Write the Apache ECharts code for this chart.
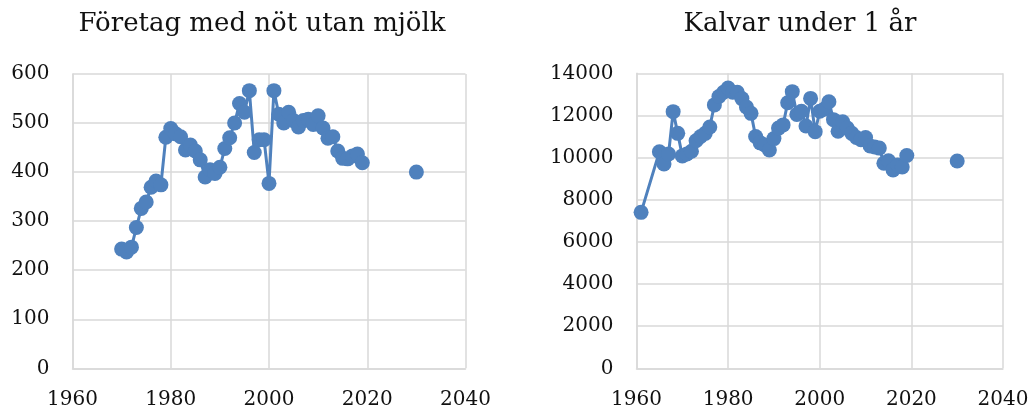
<!DOCTYPE html>
<html>
<head>
<meta charset="utf-8">
<script src="https://cdn.jsdelivr.net/npm/echarts@6/dist/echarts.min.js"></script>
<style>
html,body{margin:0;padding:0;background:#fff;}
#c{width:1033px;height:411px;}
</style>
</head>
<body>
<div id="c"></div>
<script>
// ---- Data ----
const leftTitle = "Företag med nöt utan mjölk";
const rightTitle = "Kalvar under 1 år";

const leftYears = [1970,1971,1972,1973,1974,1975,1976,1977,1978,1979,1980,1981,1982,1983,1984,1985,1986,1987,1988,1989,1990,1991,1992,1993,1994,1995,1996,1997,1998,1999,2000,2001,2002,2003,2004,2005,2006,2007,2008,2009,2010,2011,2012,2013,2014,2015,2016,2017,2018,2019];
const leftValues = [243,237,247,287,326,339,369,382,374,471,489,478,472,445,455,443,425,390,405,397,410,448,470,500,540,522,566,440,466,466,377,566,518,500,522,505,492,505,508,497,515,490,469,472,443,428,427,433,437,419];
const leftProjYear = [2030];
const leftProjValue = [400];

const rightYears = [1961,1965,1966,1967,1968,1969,1970,1971,1972,1973,1974,1975,1976,1977,1978,1979,1980,1981,1982,1983,1984,1985,1986,1987,1988,1989,1990,1991,1992,1993,1994,1995,1996,1997,1998,1999,2000,2001,2002,2003,2004,2005,2006,2007,2008,2009,2010,2011,2012,2013,2014,2015,2016,2017,2018,2019];
const rightValues = [7400,10280,9700,10170,12180,11150,10080,10170,10300,10800,11000,11150,11450,12500,12900,13100,13300,13100,13100,12800,12400,12100,11000,10700,10600,10360,10900,11400,11550,12600,13130,12050,12200,11500,12810,11230,12200,12300,12650,11800,11250,11700,11400,11150,10950,10850,10950,10550,10500,10450,9730,9850,9410,9650,9550,10100];
const rightProjYear = [2030];
const rightProjValue = [9840];

const xTicks = {min:1960, max:2040, interval:20};
const leftYTicks = {min:0, max:600, interval:100};
const rightYTicks = {min:0, max:14000, interval:2000};

// ---- Chart ----
const pair = (xs, ys) => xs.map((x,i) => [x, ys[i]]);
const FONT = "DejaVu Serif";
const BLUE = "#4f81bd";
const GRIDC = "#d9d9d9";
const TXT = "#111";
const plain = v => String(v);

const chart = echarts.init(document.getElementById('c'), null, {renderer:'canvas'});

function xAx(gi){
  return {
    gridIndex: gi, type:'value', min:xTicks.min, max:xTicks.max, interval:xTicks.interval,
    axisLine:{show:true, lineStyle:{color:GRIDC, width:1.5}},
    axisTick:{show:false},
    axisLabel:{color:TXT, fontFamily:FONT, fontSize:20, margin:21, formatter:plain},
    splitLine:{show:true, lineStyle:{color:GRIDC, width:1.5}}
  };
}
function yAx(gi, t){
  return {
    gridIndex: gi, type:'value', min:t.min, max:t.max, interval:t.interval,
    axisLine:{show:true, lineStyle:{color:GRIDC, width:1.5}},
    axisTick:{show:false},
    axisLabel:{color:TXT, fontFamily:FONT, fontSize:20, margin:23, formatter:plain},
    splitLine:{show:true, lineStyle:{color:GRIDC, width:1.5}}
  };
}
function lineSeries(i, data){
  return {
    type:'line', xAxisIndex:i, yAxisIndex:i, data:data,
    symbol:'circle', symbolSize:15, showSymbol:true,
    itemStyle:{color:BLUE, opacity:1}, lineStyle:{color:BLUE, width:3},
    animation:false
  };
}
function projSeries(i, data){
  return {
    type:'scatter', xAxisIndex:i, yAxisIndex:i, data:data,
    symbol:'circle', symbolSize:15, itemStyle:{color:BLUE, opacity:1}, animation:false
  };
}

chart.setOption({
  backgroundColor:'#fff',
  animation:false,
  title:[
    {text:leftTitle, left:257, top:6, textAlign:'center',
     textStyle:{fontFamily:FONT, fontSize:26, fontWeight:'normal', color:TXT}},
    {text:rightTitle, left:795, top:6, textAlign:'center',
     textStyle:{fontFamily:FONT, fontSize:26, fontWeight:'normal', color:TXT}}
  ],
  grid:[
    {left:72.5, right:567.5, top:74, bottom:42.7},
    {left:636.5, right:30, top:73.3, bottom:42.7}
  ],
  xAxis:[xAx(0), xAx(1)],
  yAxis:[yAx(0, leftYTicks), yAx(1, rightYTicks)],
  series:[
    lineSeries(0, pair(leftYears, leftValues)),
    projSeries(0, pair(leftProjYear, leftProjValue)),
    lineSeries(1, pair(rightYears, rightValues)),
    projSeries(1, pair(rightProjYear, rightProjValue))
  ]
});
</script>
</body>
</html>
